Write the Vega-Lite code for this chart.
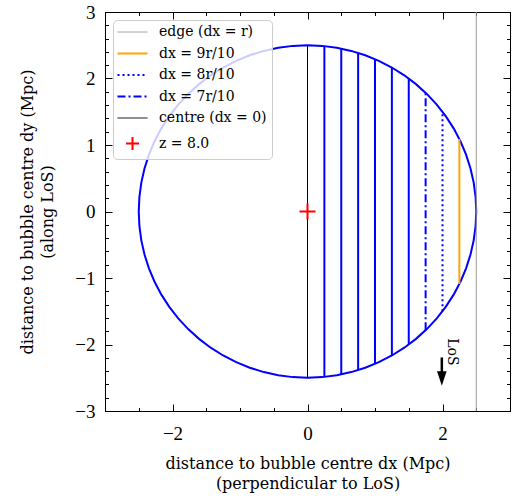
{
  "$schema": "https://vega.github.io/schema/vega-lite/v6.json",
  "autosize": "none",
  "width": 405,
  "height": 399,
  "padding": {"left": 105, "top": 12, "right": 6, "bottom": 87},
  "config": {
    "font": "DejaVu Serif",
    "view": {"stroke": "black", "strokeWidth": 1},
    "axis": {
      "grid": false,
      "domainColor": "black",
      "tickColor": "black",
      "tickWidth": 1,
      "labelColor": "black",
      "titleColor": "black",
      "labelFont": "Liberation Serif",
      "titleFont": "DejaVu Serif",
      "labelFontSize": 19,
      "titleFontSize": 16,
      "titleFontWeight": "normal",
      "titleLineHeight": 20,
      "labelOverlap": false
    }
  },
  "datasets": {
    "circle": [
      {"i": 0, "x": 2.5, "y": 0}, {"i": 1, "x": 2.4905, "y": 0.2179}, {"i": 2, "x": 2.462, "y": 0.4341}, {"i": 3, "x": 2.4148, "y": 0.647},
      {"i": 4, "x": 2.3492, "y": 0.8551}, {"i": 5, "x": 2.2658, "y": 1.0565}, {"i": 6, "x": 2.1651, "y": 1.25}, {"i": 7, "x": 2.0479, "y": 1.4339},
      {"i": 8, "x": 1.9151, "y": 1.607}, {"i": 9, "x": 1.7678, "y": 1.7678}, {"i": 10, "x": 1.607, "y": 1.9151}, {"i": 11, "x": 1.4339, "y": 2.0479},
      {"i": 12, "x": 1.25, "y": 2.1651}, {"i": 13, "x": 1.0565, "y": 2.2658}, {"i": 14, "x": 0.8551, "y": 2.3492}, {"i": 15, "x": 0.647, "y": 2.4148},
      {"i": 16, "x": 0.4341, "y": 2.462}, {"i": 17, "x": 0.2179, "y": 2.4905}, {"i": 18, "x": 0, "y": 2.5},
      {"i": 19, "x": -0.2179, "y": 2.4905}, {"i": 20, "x": -0.4341, "y": 2.462}, {"i": 21, "x": -0.647, "y": 2.4148}, {"i": 22, "x": -0.8551, "y": 2.3492},
      {"i": 23, "x": -1.0565, "y": 2.2658}, {"i": 24, "x": -1.25, "y": 2.1651}, {"i": 25, "x": -1.4339, "y": 2.0479}, {"i": 26, "x": -1.607, "y": 1.9151},
      {"i": 27, "x": -1.7678, "y": 1.7678}, {"i": 28, "x": -1.9151, "y": 1.607}, {"i": 29, "x": -2.0479, "y": 1.4339}, {"i": 30, "x": -2.1651, "y": 1.25},
      {"i": 31, "x": -2.2658, "y": 1.0565}, {"i": 32, "x": -2.3492, "y": 0.8551}, {"i": 33, "x": -2.4148, "y": 0.647}, {"i": 34, "x": -2.462, "y": 0.4341},
      {"i": 35, "x": -2.4905, "y": 0.2179}, {"i": 36, "x": -2.5, "y": 0},
      {"i": 37, "x": -2.4905, "y": -0.2179}, {"i": 38, "x": -2.462, "y": -0.4341}, {"i": 39, "x": -2.4148, "y": -0.647}, {"i": 40, "x": -2.3492, "y": -0.8551},
      {"i": 41, "x": -2.2658, "y": -1.0565}, {"i": 42, "x": -2.1651, "y": -1.25}, {"i": 43, "x": -2.0479, "y": -1.4339}, {"i": 44, "x": -1.9151, "y": -1.607},
      {"i": 45, "x": -1.7678, "y": -1.7678}, {"i": 46, "x": -1.607, "y": -1.9151}, {"i": 47, "x": -1.4339, "y": -2.0479}, {"i": 48, "x": -1.25, "y": -2.1651},
      {"i": 49, "x": -1.0565, "y": -2.2658}, {"i": 50, "x": -0.8551, "y": -2.3492}, {"i": 51, "x": -0.647, "y": -2.4148}, {"i": 52, "x": -0.4341, "y": -2.462},
      {"i": 53, "x": -0.2179, "y": -2.4905}, {"i": 54, "x": 0, "y": -2.5},
      {"i": 55, "x": 0.2179, "y": -2.4905}, {"i": 56, "x": 0.4341, "y": -2.462}, {"i": 57, "x": 0.647, "y": -2.4148}, {"i": 58, "x": 0.8551, "y": -2.3492},
      {"i": 59, "x": 1.0565, "y": -2.2658}, {"i": 60, "x": 1.25, "y": -2.1651}, {"i": 61, "x": 1.4339, "y": -2.0479}, {"i": 62, "x": 1.607, "y": -1.9151},
      {"i": 63, "x": 1.7678, "y": -1.7678}, {"i": 64, "x": 1.9151, "y": -1.607}, {"i": 65, "x": 2.0479, "y": -1.4339}, {"i": 66, "x": 2.1651, "y": -1.25},
      {"i": 67, "x": 2.2658, "y": -1.0565}, {"i": 68, "x": 2.3492, "y": -0.8551}, {"i": 69, "x": 2.4148, "y": -0.647}, {"i": 70, "x": 2.462, "y": -0.4341},
      {"i": 71, "x": 2.4905, "y": -0.2179}, {"i": 72, "x": 2.5, "y": 0}
    ],
    "thin": [
      {"series": "edge (dx = r)", "dx": 2.5, "lo": -3, "hi": 3},
      {"series": "centre (dx = 0)", "dx": 0, "lo": -2.5, "hi": 2.5}
    ],
    "thick": [
      {"series": "slice", "dx": 0.25, "lo": -2.4875, "hi": 2.4875},
      {"series": "slice", "dx": 0.5, "lo": -2.4495, "hi": 2.4495},
      {"series": "slice", "dx": 0.75, "lo": -2.3848, "hi": 2.3848},
      {"series": "slice", "dx": 1.0, "lo": -2.2913, "hi": 2.2913},
      {"series": "slice", "dx": 1.25, "lo": -2.1651, "hi": 2.1651},
      {"series": "slice", "dx": 1.5, "lo": -2.0, "hi": 2.0},
      {"series": "dx = 7r/10", "dx": 1.75, "lo": -1.7854, "hi": 1.7854},
      {"series": "dx = 8r/10", "dx": 2.0, "lo": -1.5, "hi": 1.5},
      {"series": "dx = 9r/10", "dx": 2.25, "lo": -1.0897, "hi": 1.0897}
    ],
    "centre": [{"x": 0, "y": 0}],
    "arrow": [{"x": 1.99, "y1": -2.195, "y2": -2.45}],
    "head": [{"x": 1.99, "y": -2.5}],
    "los": [{"x": 2.14, "y": -2.11, "t": "LoS"}]
  },
  "layer": [
    {
      "data": {"name": "circle"},
      "mark": {"type": "line", "color": "#0000ff", "strokeWidth": 2},
      "encoding": {
        "x": {"field": "x", "type": "quantitative", "scale": {"domain": [-3, 3], "nice": false, "zero": false},
          "axis": {"orient": "bottom", "title": ["distance to bubble centre dx (Mpc)", "(perpendicular to LoS)"],
            "values": [-3, -2.5, -2, -1.5, -1, -0.5, 0, 0.5, 1, 1.5, 2, 2.5, 3],
            "labelExpr": "datum.value % 2 === 0 ? format(datum.value, 'd') : ''",
            "tickSize": {"condition": {"test": "datum.value % 2 !== 0", "value": -3.5}, "value": -7},
            "labelPadding": 20, "titlePadding": 9}},
        "y": {"field": "y", "type": "quantitative", "scale": {"domain": [-3, 3], "nice": false, "zero": false},
          "axis": {"orient": "left", "title": ["distance to bubble centre dy (Mpc)", "(along LoS)"],
            "values": [-3, -2.8, -2.6, -2.4, -2.2, -2, -1.8, -1.6, -1.4, -1.2, -1, -0.8, -0.6, -0.4, -0.2, 0, 0.2, 0.4, 0.6, 0.8, 1, 1.2, 1.4, 1.6, 1.8, 2, 2.2, 2.4, 2.6, 2.8, 3],
            "labelExpr": "datum.value % 1 === 0 ? format(datum.value, 'd') : ''",
            "tickSize": {"condition": {"test": "datum.value % 1 !== 0", "value": -3.5}, "value": -7},
            "labelPadding": 17, "titlePadding": 19}},
        "order": {"field": "i", "type": "quantitative"}
      }
    },
    {
      "data": {"name": "thin"},
      "mark": {"type": "rule", "strokeWidth": 1},
      "encoding": {
        "x": {"field": "dx", "type": "quantitative",
          "axis": {"orient": "top", "title": null, "labels": false,
            "values": [-3, -2.5, -2, -1.5, -1, -0.5, 0, 0.5, 1, 1.5, 2, 2.5, 3],
            "tickSize": {"condition": {"test": "datum.value % 2 !== 0", "value": -3.5}, "value": -7}}},
        "y": {"field": "lo", "type": "quantitative",
          "axis": {"orient": "right", "title": null, "labels": false,
            "values": [-3, -2.8, -2.6, -2.4, -2.2, -2, -1.8, -1.6, -1.4, -1.2, -1, -0.8, -0.6, -0.4, -0.2, 0, 0.2, 0.4, 0.6, 0.8, 1, 1.2, 1.4, 1.6, 1.8, 2, 2.2, 2.4, 2.6, 2.8, 3],
            "tickSize": {"condition": {"test": "datum.value % 1 !== 0", "value": -3.5}, "value": -7}}},
        "y2": {"field": "hi"},
        "color": {"field": "series", "type": "nominal",
          "scale": {"domain": ["edge (dx = r)", "dx = 9r/10", "dx = 8r/10", "dx = 7r/10", "centre (dx = 0)", "z = 8.0", "slice"],
                    "range": ["#999999", "#ffa500", "#0000ff", "#0000ff", "#000000", "#ff0000", "#0000ff"]},
          "legend": {
            "title": null, "orient": "top-left", "offset": 8,
            "values": ["edge (dx = r)", "dx = 9r/10", "dx = 8r/10", "dx = 7r/10", "centre (dx = 0)", "z = 8.0"],
            "symbolType": "stroke", "symbolSize": 100, "symbolStrokeWidth": 2,
            "labelFont": "DejaVu Serif", "labelFontSize": 14, "labelColor": "black",
            "fillColor": "rgba(255,255,255,0.8)", "strokeColor": "#cccccc", "cornerRadius": 4, "padding": 5, "rowPadding": 7.5,
            "encode": {
              "symbols": {"update": {
                "x": {"value": 14.5},
                "shape": {"signal": "datum.value === 'z = 8.0' ? 'M-1.3,0L1.3,0M0,-1.3L0,1.3' : 'M-3,0L3,0'"},
                "size": {"value": 100},
                "fill": {"value": "transparent"},
                "strokeWidth": {"signal": "(datum.value === 'edge (dx = r)' || datum.value === 'centre (dx = 0)') ? 1 : 2"},
                "strokeDash": {"signal": "datum.value === 'dx = 8r/10' ? [2,3] : (datum.value === 'dx = 7r/10' ? [8,3,2,3] : [1,0])"}
              }},
              "labels": {"update": {"x": {"value": 41}}}
            }
          }}
      }
    },
    {
      "data": {"name": "thick"},
      "mark": {"type": "rule", "strokeWidth": 2},
      "encoding": {
        "x": {"field": "dx", "type": "quantitative", "axis": null},
        "y": {"field": "lo", "type": "quantitative", "axis": null},
        "y2": {"field": "hi"},
        "color": {"field": "series", "type": "nominal"},
        "strokeDash": {"field": "series", "type": "nominal",
          "scale": {"domain": ["slice", "dx = 7r/10", "dx = 8r/10", "dx = 9r/10"], "range": [[1, 0], [8, 3, 2, 3], [2, 3], [1, 0]]},
          "legend": null}
      }
    },
    {
      "data": {"name": "centre"},
      "mark": {"type": "point", "shape": "M-1,0L1,0M0,-1L0,1", "size": 256, "filled": false, "stroke": "#ff0000", "strokeWidth": 2, "opacity": 1},
      "encoding": {
        "x": {"field": "x", "type": "quantitative", "axis": null},
        "y": {"field": "y", "type": "quantitative", "axis": null}
      }
    },
    {
      "data": {"name": "arrow"},
      "mark": {"type": "rule", "strokeWidth": 2.5, "color": "black"},
      "encoding": {
        "x": {"field": "x", "type": "quantitative", "axis": null},
        "y": {"field": "y1", "type": "quantitative", "axis": null},
        "y2": {"field": "y2"}
      }
    },
    {
      "data": {"name": "head"},
      "mark": {"type": "point", "shape": "M-0.6,-0.8L0.6,-0.8L0,1Z", "size": 256, "filled": true, "color": "black", "opacity": 1},
      "encoding": {
        "x": {"field": "x", "type": "quantitative", "axis": null},
        "y": {"field": "y", "type": "quantitative", "axis": null}
      }
    },
    {
      "data": {"name": "los"},
      "mark": {"type": "text", "angle": 90, "font": "DejaVu Serif", "fontSize": 14, "color": "black"},
      "encoding": {
        "x": {"field": "x", "type": "quantitative", "axis": null},
        "y": {"field": "y", "type": "quantitative", "axis": null},
        "text": {"field": "t"}
      }
    }
  ],
  "resolve": {"axis": {"x": "independent", "y": "independent"}}
}
